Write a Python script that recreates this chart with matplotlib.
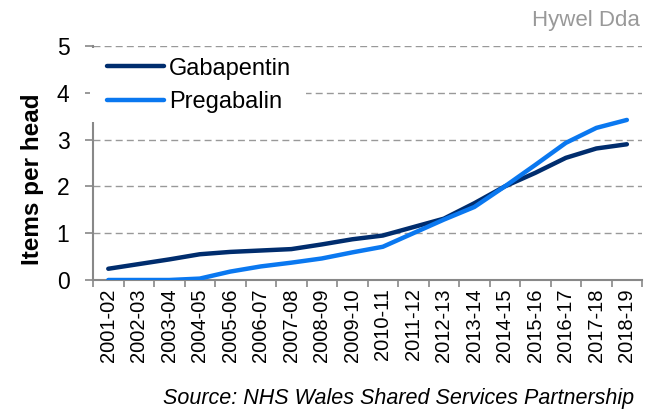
import numpy as np
import matplotlib.pyplot as plt
from matplotlib.ticker import FixedLocator
from matplotlib.patches import Rectangle

plt.rcParams['font.family'] = ['Liberation Sans', 'DejaVu Sans']

# 数据
years = ['2001-02', '2002-03', '2003-04', '2004-05', '2005-06', '2006-07',
         '2007-08', '2008-09', '2009-10', '2010-11', '2011-12', '2012-13',
         '2013-14', '2014-15', '2015-16', '2016-17', '2017-18', '2018-19']
gabapentin = [0.24, 0.34, 0.44, 0.55, 0.60, 0.63, 0.66, 0.76, 0.87, 0.95,
              1.13, 1.31, 1.64, 2.00, 2.29, 2.61, 2.81, 2.90]
pregabalin = [0.00, 0.00, 0.00, 0.03, 0.18, 0.29, 0.37, 0.46, 0.59, 0.71,
              1.00, 1.29, 1.56, 2.00, 2.46, 2.93, 3.25, 3.42]

fig = plt.figure(figsize=(6.46, 4.12), dpi=100)
ax = fig.add_axes([0.144, 0.3204, 0.85, 0.568])
x = np.arange(len(years))

ax.plot(x, gabapentin, color='#002D6E', lw=3.2, label='Gabapentin', solid_capstyle='round', zorder=3)
ax.plot(x, pregabalin, color='#0A78F0', lw=3.2, label='Pregabalin', solid_capstyle='round', zorder=3)

# 坐标轴
ax.set_xlim(-0.5, len(years) - 0.5)
ax.set_ylim(0, 5)
ax.set_yticks([0, 1, 2, 3, 4, 5])
ax.set_xticks(x)
ax.set_xticklabels(years, rotation=90, fontsize=14.5)
ax.xaxis.set_minor_locator(FixedLocator(np.arange(-0.5, len(years), 1)))
ax.tick_params(axis='x', which='major', length=0, pad=6)
ax.tick_params(axis='x', which='minor', length=5, width=1.2, color='#888888')
ax.tick_params(axis='y', length=6, width=1.2, color='#888888', labelsize=16.5, pad=11)

for s in ['top', 'right']:
    ax.spines[s].set_visible(False)
for s in ['left', 'bottom']:
    ax.spines[s].set_color('#888888')
    ax.spines[s].set_linewidth(1.5)

# 网格线
for v in [1, 2, 3, 4, 5]:
    ax.axhline(v, color='#999999', lw=1, ls=(0, (5, 3)), zorder=1)

ax.set_ylabel('Items per head', fontsize=17.5, fontweight='bold', labelpad=9, y=0.43)

# 图例背景（白色遮挡网格线和坐标轴）
ax.add_patch(Rectangle((-0.006, 0.675), 0.394, 0.315, transform=ax.transAxes,
                       facecolor='white', edgecolor='none', zorder=4, clip_on=False))
leg = ax.legend(loc='upper left', bbox_to_anchor=(0.0255, 0.95), borderaxespad=0,
                fontsize=17, handlelength=2.4, handletextpad=0.22, labelspacing=0.5,
                frameon=False, borderpad=0)
leg.set_zorder(5)

fig.text(0.991, 0.937, 'Hywel Dda', ha='right', va='baseline', fontsize=16, color='#999999')
fig.text(0.981, 0.033, 'Source: NHS Wales Shared Services Partnership', ha='right', va='center',
         fontsize=15.5, style='italic')

plt.savefig('out.png', dpi=100)
